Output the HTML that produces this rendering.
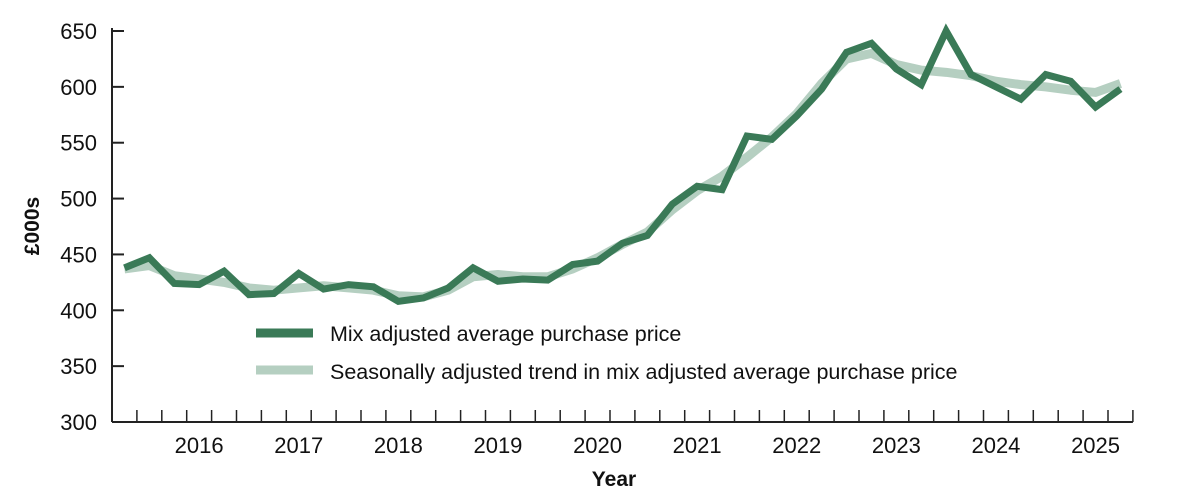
<!DOCTYPE html>
<html><head><meta charset="utf-8"><style>
body{margin:0;background:#fff;}
svg{display:block;font-family:"Liberation Sans",sans-serif;}
</style></head><body>
<svg id="chart" width="1186" height="504"></svg>
<script>
const years=["2016","2017","2018","2019","2020","2021","2022","2023","2024","2025"];
const yTicks=[300,350,400,450,500,550,600,650];
const mixPrice=[438,447,424,423,435,414,415,433,419,423,421,408,411,420,438,426,428,427,441,444,460,467,495,511,508,556,553,574,598,631,639,616,602,650,611,600,589,611,605,582,598];
const trendPrice=[437,440,431,428,425,420,418,420,422,420,418,413,412,418,430,432,430,430,437,447,459,470,490,507,520,537,555,576,603,625,630,620,615,613,610,605,602,600,597,595,603];
const NS="http://www.w3.org/2000/svg";
const svg=document.getElementById('chart');
const x0=112,q=24.9,yBase=422,yTop=31;
const xq=i=>x0+q*(i+0.5);
const yv=v=>yBase-(v-300)*(yBase-yTop)/350;
function mk(t,a){const e=document.createElementNS(NS,t);for(const k in a)e.setAttribute(k,a[k]);svg.appendChild(e);return e;}
let e=mk('line',{x1:x0,y1:yTop-3,x2:x0,y2:yBase,stroke:'#222','stroke-width':2});


e=mk('line',{x1:x0,y1:yBase,x2:x0+q*41,y2:yBase,stroke:'#222','stroke-width':2});


yTicks.forEach(v=>{
 let t=mk('line',{x1:x0,y1:yv(v),x2:x0+12,y2:yv(v),stroke:'#222','stroke-width':2});
 
 
 let l=mk('text',{x:97,y:yv(v)+8,'text-anchor':'end','font-size':22,fill:'#111'});l.textContent=v;
 
 
});
for(let k=1;k<=41;k++){
 let t=mk('line',{x1:x0+q*k,y1:yBase,x2:x0+q*k,y2:yBase-12,stroke:'#222','stroke-width':1.5});
 
 
}
years.forEach((y,k)=>{
 let l=mk('text',{x:xq(3+4*k),y:453,'text-anchor':'middle','font-size':22,fill:'#111'});l.textContent=y;
 
 
});
e=mk('text',{x:614,y:486,'text-anchor':'middle','font-size':21,'font-weight':'bold',fill:'#111'});e.textContent='Year';


e=mk('text',{x:0,y:0,transform:'translate(39,226) rotate(-90)','text-anchor':'middle','font-size':21,'font-weight':'bold',fill:'#111'});e.textContent='£000s';


e=mk('polyline',{points:trendPrice.map((v,i)=>xq(i)+','+yv(v)).join(' '),fill:'none',stroke:'#b5cfc1','stroke-width':9,'stroke-linejoin':'round'});


e=mk('polyline',{points:mixPrice.map((v,i)=>xq(i)+','+yv(v)).join(' '),fill:'none',stroke:'#3a7a57','stroke-width':7,'stroke-linejoin':'miter'});


e=mk('line',{x1:256,y1:333,x2:313,y2:333,stroke:'#3a7a57','stroke-width':9});


e=mk('text',{x:330,y:341,'font-size':21.5,fill:'#111'});e.textContent='Mix adjusted average purchase price';


e=mk('line',{x1:256,y1:370,x2:313,y2:370,stroke:'#b5cfc1','stroke-width':9});


e=mk('text',{x:330,y:379,'font-size':21.5,fill:'#111'});e.textContent='Seasonally adjusted trend in mix adjusted average purchase price';


</script>
</body></html>
